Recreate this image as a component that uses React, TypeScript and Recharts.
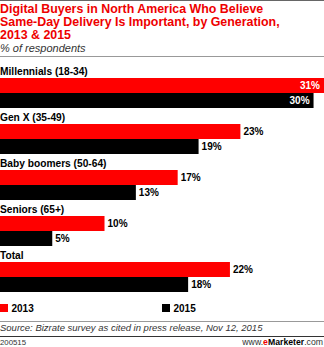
import React from 'react';
import { BarChart, Bar, XAxis, YAxis, LabelList } from 'recharts';

const categories = ['Millennials (18-34)', 'Gen X (35-49)', 'Baby boomers (50-64)', 'Seniors (65+)', 'Total'];
const values2013 = [31, 23, 17, 10, 22];
const values2015 = [30, 19, 13, 5, 18];
const seriesNames = ['2013', '2015'];
const seriesColors = ['#ff0000', '#000000'];

const data = categories.map((name, i) => ({ name, y2013: values2013[i], y2015: values2015[i] }));

const FONT = '"Liberation Sans", Arial, Helvetica, sans-serif';

const CategoryLabel = (props: any) => {
  const { y, value } = props;
  return (
    <text x={0} y={y - 3} fontFamily={FONT} fontSize={10.2} fontWeight="bold" fill="#000" textAnchor="start">
      {value}
    </text>
  );
};

const ValueLabel = (props: any) => {
  const { x, y, width, height, value } = props;
  const inside = value >= 30;
  return (
    <text
      x={inside ? x + width - 4 : x + width + 3}
      y={y + height / 2 + 3.5}
      fontFamily={FONT}
      fontSize={10}
      fontWeight="bold"
      fill={inside ? '#fff' : '#000'}
      textAnchor={inside ? 'end' : 'start'}
    >
      {value}%
    </text>
  );
};

const abs = (s: React.CSSProperties): React.CSSProperties => ({ position: 'absolute', ...s });

const titleLines = [
  'Digital Buyers in North America Who Believe',
  'Same-Day Delivery Is Important, by Generation,',
  '2013 & 2015',
];

export default function App() {
  return (
    <div style={{ position: 'absolute', left: 0, top: 0, width: 324, height: 347, overflow: 'hidden', background: '#fff', fontFamily: FONT }}>
      <div style={abs({ left: 0, top: 0, width: 324, height: 1, background: '#666' })} />
      {titleLines.map((t, i) => (
        <div key={i} style={abs({ left: 0, top: 3.3 + i * 12.6, fontSize: 12.4, lineHeight: '12px', fontWeight: 'bold', color: '#ee0000', whiteSpace: 'nowrap' })}>
          {t}
        </div>
      ))}
      <div style={abs({ left: 0, top: 41.7, fontSize: 11, lineHeight: '13px', fontStyle: 'italic', color: '#333', whiteSpace: 'nowrap' })}>
        % of respondents
      </div>
      <div style={abs({ left: 0, top: 56, width: 324, height: 1, background: '#999' })} />

      <div style={abs({ left: 0, top: 0 })}>
        <BarChart
          layout="vertical"
          width={324}
          height={347}
          data={data}
          margin={{ top: 70, right: 0, bottom: 47, left: 0 }}
          barGap={0}
          barCategoryGap={8}
        >
          <XAxis type="number" domain={[0, 31]} hide />
          <YAxis type="category" dataKey="name" hide />
          <Bar dataKey="y2013" name={seriesNames[0]} fill={seriesColors[0]} barSize={15} isAnimationActive={false}>
            <LabelList dataKey="name" content={CategoryLabel} />
            <LabelList dataKey="y2013" content={ValueLabel} />
          </Bar>
          <Bar dataKey="y2015" name={seriesNames[1]} fill={seriesColors[1]} barSize={15} isAnimationActive={false}>
            <LabelList dataKey="y2015" content={ValueLabel} />
          </Bar>
        </BarChart>
      </div>

      <div style={abs({ left: 0, top: 304, width: 8, height: 8, background: seriesColors[0] })} />
      <div style={abs({ left: 11.5, top: 302.5, fontSize: 10, lineHeight: '12px', fontWeight: 'bold', color: '#000' })}>{seriesNames[0]}</div>
      <div style={abs({ left: 162, top: 304, width: 8, height: 8, background: seriesColors[1] })} />
      <div style={abs({ left: 173.5, top: 302.5, fontSize: 10, lineHeight: '12px', fontWeight: 'bold', color: '#000' })}>{seriesNames[1]}</div>

      <div style={abs({ left: 0, top: 321, width: 324, height: 1, background: '#999' })} />
      <div style={abs({ left: 0, top: 322.2, fontSize: 9.5, lineHeight: '11px', fontStyle: 'italic', color: '#333', whiteSpace: 'nowrap' })}>
        Source: Bizrate survey as cited in press release, Nov 12, 2015
      </div>
      <div style={abs({ left: 0, top: 336, width: 324, height: 1, background: '#333' })} />
      <div style={abs({ left: 0, top: 337.5, fontSize: 7.8, lineHeight: '10px', color: '#333', whiteSpace: 'nowrap' })}>200515</div>
      <div style={abs({ right: 1, top: 337, fontSize: 8.7, lineHeight: '10px', color: '#333', whiteSpace: 'nowrap' })}>
        www.<span style={{ color: '#ee0000', fontWeight: 'bold' }}>e</span><span style={{ color: '#000', fontWeight: 'bold' }}>Marketer</span>.com
      </div>
    </div>
  );
}
